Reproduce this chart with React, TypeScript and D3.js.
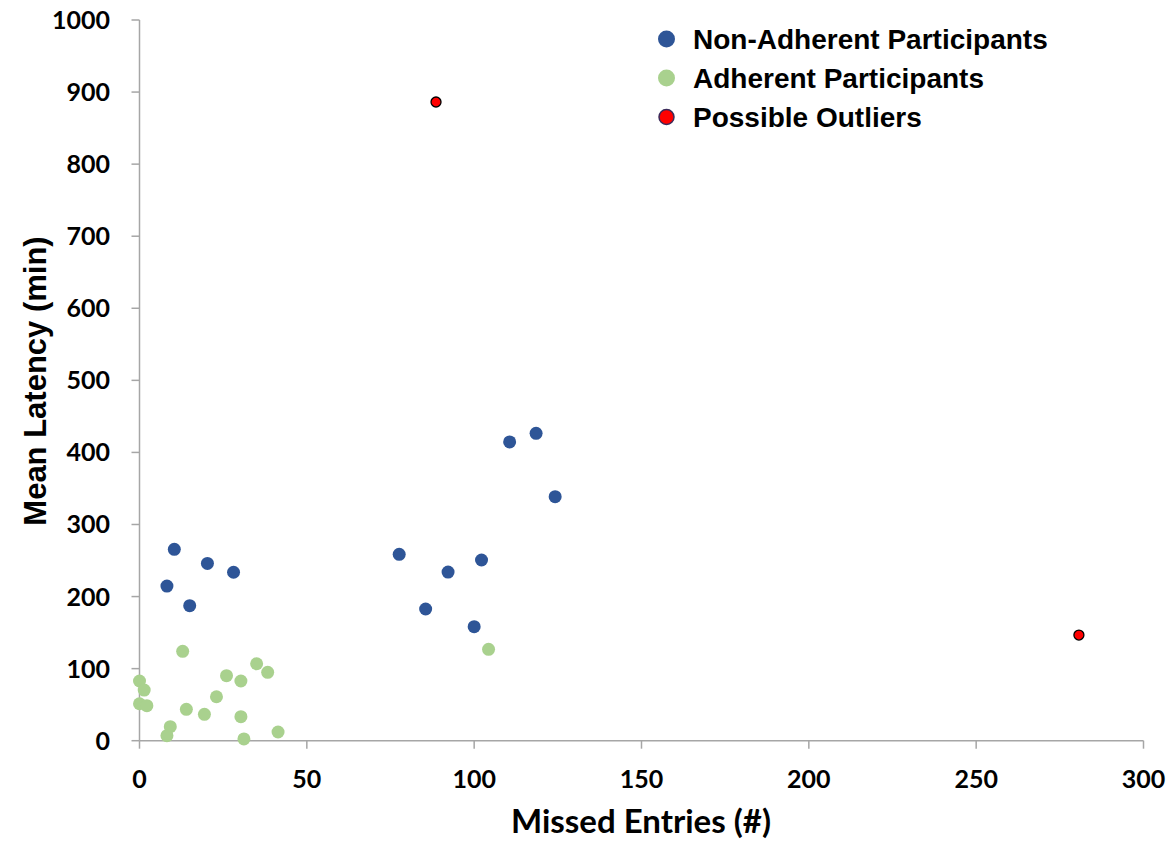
import React from "react";
import * as d3 from "d3";

const nonAdherentX = [10.4, 20.3, 28.1, 8.2, 15.0, 77.6, 85.5, 110.6, 118.5, 124.2, 102.2, 92.2, 100.0];
const nonAdherentY = [265.6, 246, 233.7, 214.6, 187.3, 258.6, 182.7, 414.5, 426.5, 338.6, 250.7, 234, 158.2];

const adherentX = [12.9, 35.0, 38.3, 26.0, 30.3, 0, 1.4, 0, 2.2, 23.0, 14.0, 19.4, 30.3, 9.2, 8.2, 31.2, 41.4, 104.3];
const adherentY = [124, 106.8, 94.9, 90.2, 82.8, 82.8, 70.3, 51.3, 48.6, 61, 43.5, 36.6, 33.3, 19.4, 7, 2.4, 12.1, 126.8];

const outlierX = [88.6, 280.7];
const outlierY = [886.2, 146.6];

const xTicks = [0, 50, 100, 150, 200, 250, 300];
const yTicks = [0, 100, 200, 300, 400, 500, 600, 700, 800, 900, 1000];

const legendLabels = ["Non-Adherent Participants", "Adherent Participants", "Possible Outliers"];

const W = 1169;
const H = 842;

export default function App() {
  const x = d3.scaleLinear().domain([0, 300]).range([139.5, 1143.5]);
  const y = d3.scaleLinear().domain([0, 1000]).range([740.7, 20]);
  const axisColor = "#a6a6a6";
  const tickFont = "Lato, 'Open Sans', sans-serif";
  const arial = "'Liberation Sans', Arial, sans-serif";

  const blue = nonAdherentX.map((v, i) => ({ x: v, y: nonAdherentY[i] }));
  const green = adherentX.map((v, i) => ({ x: v, y: adherentY[i] }));
  const red = outlierX.map((v, i) => ({ x: v, y: outlierY[i] }));

  const legend = [
    { label: legendLabels[0], fill: "#2E5597", stroke: "none", r: 8.5 },
    { label: legendLabels[1], fill: "#A9D18E", stroke: "none", r: 8.5 },
    { label: legendLabels[2], fill: "#FF0000", stroke: "#3a2a5a", r: 7.5 },
  ];
  const legendY = [39, 78, 117];

  return (
    <svg width={W} height={H} style={{ position: "absolute", left: 0, top: 0, background: "#fff" }}>
      {/* axes */}
      <line x1={x(0)} x2={x(0)} y1={y(1000)} y2={y(0)} stroke={axisColor} strokeWidth={1.5} />
      <line x1={x(0)} x2={x(300)} y1={y(0)} y2={y(0)} stroke={axisColor} strokeWidth={1.5} />
      {yTicks.map((t) => (
        <g key={"y" + t}>
          <line x1={x(0) - 8} x2={x(0)} y1={y(t)} y2={y(t)} stroke={axisColor} strokeWidth={1.5} />
          <text
            x={110}
            y={y(t)}
            dy="0.36em"
            textAnchor="end"
            fontFamily={tickFont}
            fontWeight={700}
            fontSize={25}
            fill="#000"
          >
            {t}
          </text>
        </g>
      ))}
      {xTicks.map((t) => (
        <g key={"x" + t}>
          <line x1={x(t)} x2={x(t)} y1={y(0)} y2={y(0) + 8} stroke={axisColor} strokeWidth={1.5} />
          <text
            x={x(t)}
            y={788}
            textAnchor="middle"
            fontFamily={tickFont}
            fontWeight={700}
            fontSize={25}
            fill="#000"
          >
            {t}
          </text>
        </g>
      ))}
      {/* axis titles */}
      <text
        x={641}
        y={833}
        textAnchor="middle"
        fontFamily={tickFont}
        fontWeight={700}
        fontSize={33}
        fill="#000"
      >
        Missed Entries (#)
      </text>
      <text
        transform={`translate(46, 381) rotate(-90)`}
        textAnchor="middle"
        fontFamily={arial}
        fontWeight={700}
        fontSize={31}
        fill="#000"
      >
        Mean Latency (min)
      </text>
      {/* points */}
      {blue.map((d, i) => (
        <circle key={"b" + i} cx={x(d.x)} cy={y(d.y)} r={6.5} fill="#2E5597" />
      ))}
      {green.map((d, i) => (
        <circle key={"g" + i} cx={x(d.x)} cy={y(d.y)} r={6.5} fill="#A9D18E" />
      ))}
      {red.map((d, i) => (
        <circle key={"r" + i} cx={x(d.x)} cy={y(d.y)} r={5} fill="#FF0000" stroke="#000" strokeWidth={1.3} />
      ))}
      {/* legend */}
      {legend.map((l, i) => (
        <g key={"l" + i}>
          <circle
            cx={666.5}
            cy={legendY[i]}
            r={l.r}
            fill={l.fill}
            stroke={l.stroke}
            strokeWidth={l.stroke === "none" ? 0 : 1.5}
          />
          <text
            x={693}
            y={legendY[i]}
            dy="0.36em"
            fontFamily={arial}
            fontWeight={700}
            fontSize={28}
            fill="#000"
          >
            {l.label}
          </text>
        </g>
      ))}
    </svg>
  );
}
